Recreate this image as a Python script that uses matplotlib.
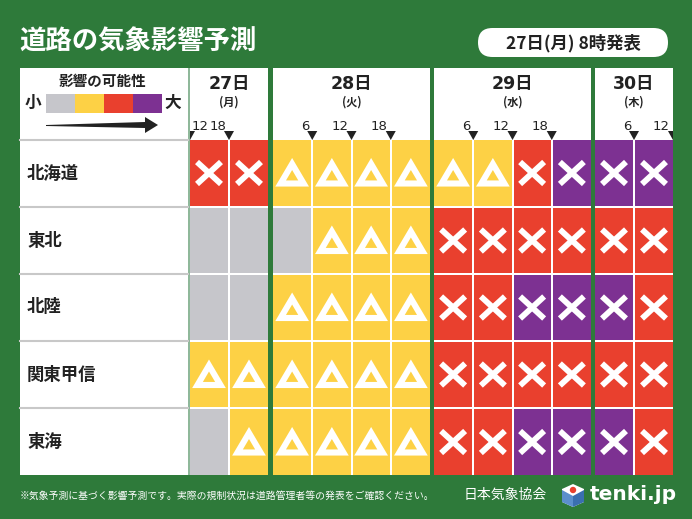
import matplotlib.pyplot as plt
from matplotlib.patches import Rectangle, Polygon, FancyBboxPatch, Circle

plt.rcParams['font.family'] = ['Noto Sans CJK JP', 'DejaVu Sans']

# data
regions = ['北海道', '東北', '北陸', '関東甲信', '東海']
days = ['27日', '28日', '29日', '30日']
weekdays = ['(月)', '(火)', '(水)', '(木)']
cells_per_day = [2, 4, 4, 2]
start_hour = [12, 0, 0, 0]
tick_hours = [[12, 18], [6, 12, 18], [6, 12, 18], [6, 12]]
# 0 gray, 1 yellow, 2 red, 3 purple
levels = [
    [2, 2, 1, 1, 1, 1, 1, 1, 2, 3, 3, 3],
    [0, 0, 0, 1, 1, 1, 2, 2, 2, 2, 2, 2],
    [0, 0, 1, 1, 1, 1, 2, 2, 3, 3, 3, 2],
    [1, 1, 1, 1, 1, 1, 2, 2, 2, 2, 2, 2],
    [0, 1, 1, 1, 1, 1, 2, 2, 3, 3, 3, 2],
]
level_colors = ['#c6c6cb', '#fdd145', '#e9402e', '#7d3192']
title = '道路の気象影響予測'
issued = '27日(月) 8時発表'
note = '※気象予測に基づく影響予測です。実際の規制状況は道路管理者等の発表をご確認ください。'

green = '#2e7a3a'
fig = plt.figure(figsize=(6.92, 5.19), dpi=100)
fig.patch.set_facecolor(green)
ax = fig.add_axes([0, 0, 1, 1])
ax.set_xlim(0, 692)
ax.set_ylim(519, 0)
ax.axis('off')

# header
ax.text(19, 42, title, color='white', fontsize=19, fontweight='bold', va='center', ha='left')
badge = FancyBboxPatch((478, 28), 190, 29, boxstyle='round,pad=0,rounding_size=14.5',
                       fc='white', ec='none')
ax.add_patch(badge)
ax.text(573, 43, issued, fontsize=12.5, fontweight='bold', va='center', ha='center', color='#222222')

top, hdr, bottom = 68, 140, 475
row_h = (bottom - hdr) / len(regions)

# label panel
ax.add_patch(Rectangle((20, top), 168, bottom - top, fc='white', ec='none'))
ax.add_patch(Rectangle((188, top), 1.5, bottom - top, fc='#8fb89a', ec='none'))
for r, name in enumerate(regions):
    y0 = hdr + r * row_h
    ax.plot([20, 188], [y0, y0], color='#c8c8c8', lw=1.5)
    ax.text(27, y0 + row_h / 2, name, fontsize=12.5, fontweight='bold', va='center', ha='left',
            color='#222222')

# legend
ax.text(103, 81, '影響の可能性', fontsize=10.5, fontweight='bold', ha='center', va='center',
        color='#222222')
ax.text(33, 103, '小', fontsize=12, fontweight='bold', ha='center', va='center', color='#222222')
ax.text(173, 103, '大', fontsize=12, fontweight='bold', ha='center', va='center', color='#222222')
lw_ = 29
for i, c in enumerate(level_colors):
    ax.add_patch(Rectangle((46 + i * lw_, 94), lw_, 19, fc=c, ec='none'))
ax.add_patch(Polygon([(46, 125), (145, 122), (145, 117), (158, 125), (145, 133), (145, 128), (46, 126)],
                     closed=True, fc='#222222', ec='none'))

# day columns
col_x = [(190, 268), (273, 430), (434, 591), (595, 673)]
ci = 0
for d in range(len(days)):
    x0, x1 = col_x[d]
    n = cells_per_day[d]
    cw = (x1 - x0) / n
    hrect = Rectangle((x0, top), x1 - x0, bottom - top, fc='white', ec='none')
    ax.add_patch(hrect)
    xm = (x0 + x1) / 2
    ax.text(xm, 84, days[d], family=['DejaVu Sans', 'Noto Sans CJK JP'], fontsize=12.5,
            fontweight='bold', ha='center', va='center', color='#222222')
    ax.text(xm, 102, weekdays[d], fontsize=8, fontweight='bold', ha='center', va='center',
            color='#222222')
    for h in tick_hours[d]:
        k = (h - start_hour[d]) / 6
        bx = x0 + k * cw
        tri = Polygon([(bx - 5, 131), (bx + 5, 131), (bx, 140)], closed=True, fc='#222222', ec='none')
        ax.add_patch(tri)
        tri.set_clip_path(hrect)
        if k == 0:
            ax.text(bx + 2, 126, str(h), family='DejaVu Sans', fontsize=9.5, ha='left', va='center',
                    color='#222222')
        else:
            ax.text(bx - 3, 126, str(h), family='DejaVu Sans', fontsize=9.5, ha='right', va='center',
                    color='#222222')
    for j in range(n):
        cx0 = x0 + j * cw + (1 if j > 0 else 0)
        cx1 = x0 + (j + 1) * cw - (1 if j < n - 1 else 0)
        for r in range(len(regions)):
            cy0 = hdr + r * row_h + (1 if r > 0 else 0)
            cy1 = hdr + (r + 1) * row_h - (1 if r < len(regions) - 1 else 0)
            lev = levels[r][ci + j]
            ax.add_patch(Rectangle((cx0, cy0), cx1 - cx0, cy1 - cy0, fc=level_colors[lev], ec='none'))
            cx = (cx0 + cx1) / 2
            cy = (cy0 + cy1) / 2
            if lev == 1:
                ax.add_patch(Polygon([(cx - 11.5, cy + 10.5), (cx + 11.5, cy + 10.5), (cx, cy - 9)],
                                     closed=True, fill=False, ec='white', lw=4.4, joinstyle='miter'))
            elif lev >= 2:
                ax.plot([cx - 12, cx + 12], [cy - 11, cy + 11], color='white', lw=4.2,
                        solid_capstyle='butt')
                ax.plot([cx - 12, cx + 12], [cy + 11, cy - 11], color='white', lw=4.2,
                        solid_capstyle='butt')
    ci += n

# footer
ax.text(20, 496, note, fontsize=7.1, color='white', ha='left', va='center')
ax.text(505, 495, '日本気象協会', fontsize=10, color='white', ha='center', va='center')
ax.add_patch(Polygon([(573, 484), (584, 489), (584, 502), (573, 507), (562, 502), (562, 489)],
                     closed=True, fc='white', ec='none'))
ax.add_patch(Polygon([(573, 496), (584, 490), (584, 502), (573, 507)], closed=True, fc='#3a6fb0', ec='none'))
ax.add_patch(Polygon([(562, 490), (573, 496), (573, 507), (562, 502)], closed=True, fc='#5b8fcc', ec='none'))
ax.add_patch(Circle((573, 490), 3.2, fc='#e9402e', ec='none'))
ax.text(590, 495, 'tenki.jp', family='DejaVu Sans', fontsize=14.5, fontweight='bold', color='white',
        ha='left', va='center')

fig.savefig('out.png', dpi=100, facecolor=green)
